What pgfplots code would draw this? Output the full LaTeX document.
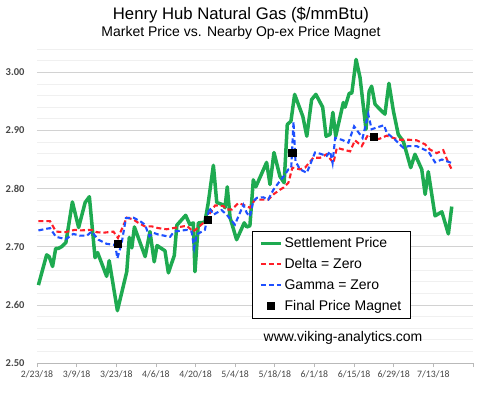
\documentclass[border=0pt]{standalone}
\usepackage{pgfplots}
\pgfplotsset{compat=1.18}
\usepackage{fontspec}
\setmainfont{Liberation Sans}
\newfontfamily\carlito{Carlito}
\definecolor{sgreen}{RGB}{30,170,80}
\definecolor{dred}{RGB}{255,30,40}
\definecolor{dblue}{RGB}{30,80,255}
\definecolor{ticktext}{RGB}{70,70,70}

\pgfplotstableread{
x y
0.5 2.634
3.4 2.686
4.3 2.683
5.5 2.666
6.6 2.697
7.5 2.697
8.7 2.700
10.2 2.707
12.5 2.777
14.7 2.733
17.0 2.776
18.5 2.786
20.5 2.681
21.4 2.690
24.6 2.649
25.5 2.676
28.4 2.590
31.7 2.657
32.6 2.716
33.5 2.698
34.4 2.734
38.2 2.683
39.9 2.726
41.4 2.674
42.4 2.702
45.2 2.693
46.4 2.655
48.5 2.685
49.4 2.737
52.5 2.754
54.0 2.738
55.2 2.741
55.8 2.657
57.0 2.741
59.3 2.742
60.5 2.776
62.3 2.840
63.5 2.776
65.8 2.772
66.4 2.767
67.2 2.803
68.2 2.750
70.5 2.712
73.2 2.741
74.1 2.734
75.2 2.736
76.4 2.815
77.3 2.803
81.1 2.845
82.3 2.807
83.7 2.862
85.8 2.821
87.3 2.810
88.4 2.910
89.7 2.916
91.0 2.962
93.9 2.924
95.3 2.890
97.0 2.953
98.5 2.962
100.9 2.940
102.1 2.890
103.5 2.893
104.5 2.931
105.5 2.890
108.2 2.948
108.8 2.940
110.3 2.964
111.2 2.964
112.7 3.022
114.1 2.991
116.2 2.902
117.3 2.967
118.2 2.976
119.4 2.945
121.8 2.933
122.9 2.928
124.3 2.981
125.9 2.933
127.6 2.893
129.4 2.881
131.2 2.850
132.0 2.836
133.5 2.859
135.9 2.833
137.1 2.790
138.2 2.829
140.6 2.753
143.0 2.760
145.3 2.722
146.5 2.769
}\settletab

\pgfplotstableread{
x y
0.5 2.744
4.6 2.744
6.7 2.726
9.9 2.725
13.4 2.729
15.2 2.728
19.3 2.729
21.1 2.725
23.4 2.724
27.0 2.726
28.6 2.715
31.7 2.750
34.0 2.747
35.8 2.741
38.1 2.735
40.5 2.735
42.8 2.732
45.8 2.730
48.1 2.732
52.9 2.736
55.2 2.726
57.6 2.736
60.2 2.747
61.1 2.758
62.9 2.771
65.8 2.770
67.0 2.764
68.8 2.764
71.1 2.775
72.9 2.772
75.2 2.767
77.0 2.781
81.7 2.781
83.5 2.790
85.8 2.798
87.2 2.802
88.8 2.810
90.2 2.836
92.9 2.833
94.7 2.836
97.6 2.853
100.0 2.853
102.3 2.859
104.7 2.844
105.9 2.870
108.2 2.867
110.6 2.864
112.3 2.883
114.7 2.873
117.0 2.893
119.4 2.884
121.2 2.886
123.5 2.891
125.9 2.887
128.2 2.884
131.2 2.884
134.1 2.883
137.1 2.876
138.8 2.867
141.2 2.861
143.5 2.866
145.3 2.844
146.5 2.833
}\deltatab

\pgfplotstableread{
x y
0.5 2.728
4.6 2.732
6.7 2.717
10.2 2.713
12.8 2.722
15.2 2.719
17.6 2.719
19.3 2.726
21.7 2.712
24.6 2.705
27.6 2.703
28.4 2.680
29.9 2.706
31.4 2.749
34.0 2.750
36.4 2.744
38.1 2.738
39.7 2.718
41.1 2.724
42.8 2.721
47.0 2.717
48.4 2.726
52.9 2.729
54.6 2.726
55.5 2.698
56.4 2.721
59.3 2.729
60.9 2.767
62.3 2.755
65.2 2.763
67.0 2.755
69.9 2.738
72.9 2.772
74.1 2.758
75.2 2.752
76.4 2.778
77.6 2.784
79.9 2.785
81.7 2.781
83.5 2.798
85.8 2.813
87.6 2.824
88.8 2.833
89.8 2.836
90.6 2.915
91.3 2.847
92.9 2.833
95.3 2.827
98.2 2.862
100.0 2.860
102.3 2.856
103.5 2.864
104.4 2.844
105.3 2.887
107.6 2.884
110.0 2.879
112.0 2.907
114.1 2.893
115.0 2.887
117.0 2.928
118.2 2.902
120.0 2.905
122.6 2.909
123.5 2.896
126.5 2.884
129.4 2.870
131.2 2.873
134.1 2.873
135.9 2.869
138.2 2.864
140.6 2.845
143.0 2.850
144.7 2.847
146.5 2.844
}\gammatab

\pgfplotstableread{
x y
28.4 2.705
60.2 2.746
90.2 2.862
119.0 2.889
}\magnettab

\begin{document}
\begin{tikzpicture}
\path[use as bounding box] (0pt,0pt) rectangle (480pt,-394pt);
\node at (241pt,-15pt) {\fontsize{16.7}{18}\selectfont Henry Hub Natural Gas (\$/mmBtu)};
\node at (241pt,-33pt) {\fontsize{14}{16}\selectfont Market Price vs. Nearby Op-ex Price Magnet};
\begin{axis}[
  at={(37pt,-363pt)}, anchor=south west,
  scale only axis, width=436pt, height=314pt,
  xmin=0, xmax=154, ymin=2.5, ymax=3.04,
  axis x line*=bottom, axis y line*=left,
  x axis line style={draw=gray!55, line width=0.8pt},
  y axis line style={draw=none},
  xtick={0,14,...,154},
  xticklabels={2/23/18,3/9/18,3/23/18,4/6/18,4/20/18,5/4/18,5/18/18,6/1/18,6/15/18,6/29/18,7/13/18,},
  ytick={2.5,2.6,2.7,2.8,2.9,3.0},
  minor ytick={2.52,2.54,2.56,2.58,2.62,2.64,2.66,2.68,2.72,2.74,2.76,2.78,2.82,2.84,2.86,2.88,2.92,2.94,2.96,2.98,3.02,3.04},
  ymajorgrids, yminorgrids,
  major grid style={draw=gray!35, line width=0.7pt},
  minor grid style={draw=gray!12, line width=0.7pt},
  tick align=outside,
  major tick length=4pt,
  xtick style={draw=gray!55, line width=0.7pt},
  ytick style={draw=none},
  /pgf/number format/assume math mode=true,
  yticklabel={\pgfmathprintnumber[fixed,fixed zerofill,precision=2]{\tick}},
  yticklabel style={font=\carlito\bfseries\fontsize{10.5}{12}\selectfont, text=ticktext, xshift=-5pt},
  xticklabel style={font=\carlito\fontsize{9.8}{12}\selectfont, text=ticktext},
  legend cell align=left,
  legend image code/.code={\draw[#1] (0pt,0pt) -- (20pt,0pt);},
  legend style={at={(0.4924,0.4213)}, anchor=north west, draw=black, line width=0.8pt,
    font=\fontsize{14}{16}\selectfont, row sep=5.3pt, inner xsep=7pt, inner ysep=4.5pt},
  clip=false,
]
\addplot[sgreen, line width=3.5pt, line join=round] table[x=x,y=y]{\settletab};
\addlegendentry{Settlement Price}
\addplot[dred, line width=2.1pt, dash pattern=on 5pt off 3pt] table[x=x,y=y]{\deltatab};
\addlegendentry{Delta = Zero}
\addplot[dblue, line width=2.1pt, dash pattern=on 5pt off 3pt] table[x=x,y=y]{\gammatab};
\addlegendentry{Gamma = Zero}
\addplot[only marks, mark=square*, mark size=3.7pt, black,
  legend image code/.code={\fill[black] (6.8pt,-3.2pt) rectangle (13.2pt,3.2pt);}] table[x=x,y=y]{\magnettab};
\addlegendentry{Final Price Magnet}
\node[font=\fontsize{14}{16}\selectfont] at (rel axis cs:0.702,0.08) {www.viking-analytics.com};
\end{axis}
\end{tikzpicture}
\end{document}
